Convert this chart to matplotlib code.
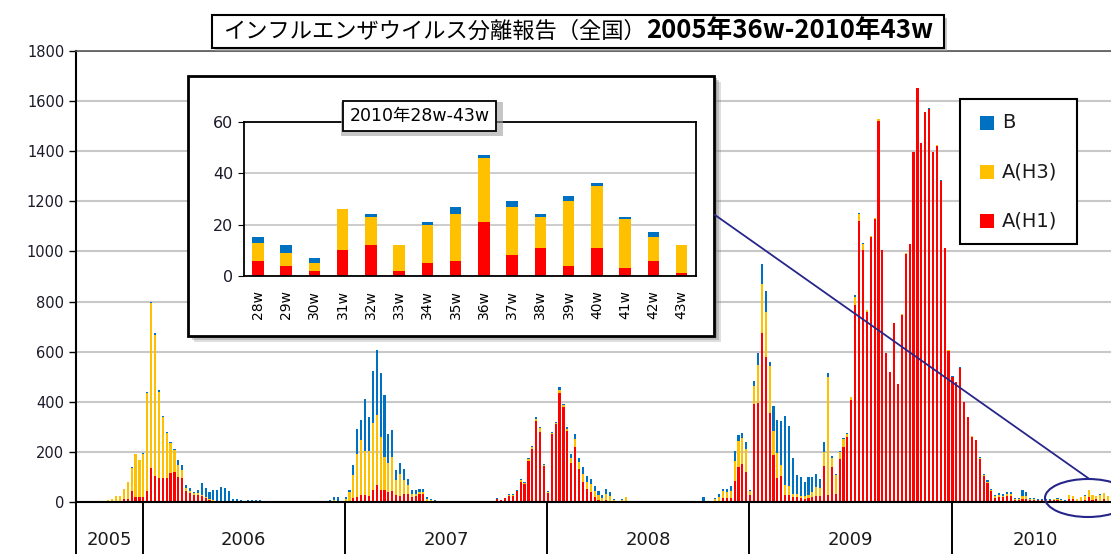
import numpy as np
import matplotlib.pyplot as plt
from matplotlib.patches import Rectangle, Ellipse
from matplotlib.lines import Line2D
from matplotlib.transforms import blended_transform_factory

plt.rcParams['font.family'] = ['DejaVu Sans', 'Noto Sans CJK JP']

# --- data: weekly isolation counts, A(H1) / A(H3) / B ---------------------
YEARS = ["2005", "2006", "2007", "2008", "2009", "2010"]

H1_2005 = [0, 0, 0, 0, 0, 0, 0, 0, 0, 0, 0, 0, 13, 13, 44, 19, 19]
H3_2005 = [3, 0, 0, 0, 0, 0, 0, 0, 7, 12, 24, 24, 40, 66, 92, 173, 147]
B_2005 = [0, 0, 0, 0, 0, 0, 0, 0, 0, 0, 0, 0, 0, 0, 2, 0, 0]

H1_2006 = [19, 42, 135, 105, 95, 95, 95, 115, 120, 100, 95, 42, 34, 28, 27, 22, 14, 6, 4, 2,
           3, 0, 0, 0, 0, 0, 0, 0, 0, 0, 0, 0, 0, 0, 0, 0, 0, 0, 5, 0,
           0, 0, 0, 0, 0, 0, 0, 0, 0, 0, 0, 0]
H3_2006 = [172, 393, 660, 563, 345, 245, 180, 119, 87, 48, 32, 14, 10, 6, 7, 6, 4, 4, 3, 0,
           0, 2, 0, 0, 0, 0, 0, 0, 0, 0, 0, 0, 0, 0, 0, 0, 0, 0, 0, 0,
           0, 0, 0, 0, 0, 0, 0, 0, 0, 6, 5, 5]
B_2006 = [3, 5, 5, 5, 6, 5, 5, 5, 5, 20, 20, 10, 10, 6, 13, 46, 36, 30, 40, 45,
          58, 52, 43, 13, 13, 7, 0, 6, 6, 6, 6, 0, 0, 0, 0, 0, 0, 0, 0, 0,
          0, 0, 0, 0, 5, 5, 5, 0, 8, 13, 14, 0]

H1_2007 = [2, 3, 14, 20, 27, 27, 25, 46, 68, 46, 46, 41, 43, 27, 23, 30, 32, 20, 24, 30,
           30, 5, 4, 3, 0, 5, 0, 4, 0, 0, 0, 0, 4, 0, 0, 0, 0, 0, 5, 12,
           6, 14, 25, 24, 45, 80, 70, 165, 210, 325, 280, 145]
H3_2007 = [8, 36, 94, 172, 219, 178, 180, 268, 279, 213, 135, 113, 138, 61, 88, 58, 36, 12, 8, 10,
           8, 6, 4, 2, 0, 0, 0, 0, 0, 3, 0, 0, 0, 0, 0, 0, 0, 0, 0, 0,
           0, 0, 3, 3, 0, 6, 6, 6, 9, 8, 14, 4]
B_2007 = [9, 7, 39, 101, 81, 207, 136, 209, 261, 255, 247, 119, 105, 39, 43, 43, 22, 14, 14, 13,
          15, 8, 4, 3, 0, 0, 0, 0, 0, 0, 0, 0, 0, 0, 0, 0, 0, 0, 0, 2,
          0, 2, 3, 3, 2, 5, 5, 5, 5, 6, 6, 3]

H1_2008 = [37, 270, 310, 435, 378, 283, 155, 220, 130, 78, 50, 40, 18, 6, 3, 6, 5, 2, 0, 0,
           0, 0, 0, 0, 0, 0, 0, 0, 0, 0, 0, 0, 0, 0, 0, 0, 0, 0, 0, 0,
           0, 0, 0, 0, 5, 16, 14, 14, 85, 140, 150, 120]
H3_2008 = [3, 5, 5, 14, 9, 10, 20, 33, 30, 35, 30, 30, 26, 20, 14, 24, 18, 4, 0, 8,
           18, 0, 0, 0, 0, 0, 0, 0, 0, 0, 0, 0, 0, 0, 3, 0, 0, 0, 0, 0,
           0, 0, 0, 10, 15, 29, 25, 30, 80, 105, 105, 93]
B_2008 = [2, 3, 4, 10, 6, 6, 15, 18, 14, 25, 24, 22, 20, 17, 10, 22, 15, 5, 4, 3,
          2, 4, 4, 0, 4, 4, 4, 4, 4, 0, 0, 0, 0, 0, 0, 0, 0, 0, 0, 0,
          18, 4, 4, 6, 10, 8, 14, 21, 40, 24, 21, 26]

H1_2009 = [28, 393, 397, 673, 580, 356, 189, 96, 103, 29, 29, 18, 20, 15, 12, 15, 20, 25, 25, 145,
           27, 140, 32, 170, 220, 260, 408, 785, 1120, 1005, 760, 1058, 1128, 1520, 1005, 594, 517, 713, 470, 746,
           990, 1028, 1395, 1651, 1431, 1555, 1570, 1395, 1422, 1283, 1012, 604]
H3_2009 = [14, 70, 150, 196, 180, 187, 93, 100, 45, 40, 33, 12, 10, 10, 10, 12, 20, 35, 30, 55,
           473, 37, 75, 30, 33, 12, 10, 35, 30, 25, 5, 5, 5, 7, 2, 2, 3, 3, 2, 3,
           3, 1, 1, 2, 1, 1, 0, 1, 1, 0, 1, 1]
B_2009 = [5, 20, 46, 80, 83, 17, 100, 133, 175, 274, 241, 146, 77, 74, 58, 72, 59, 52, 38, 39,
          13, 6, 6, 3, 3, 4, 2, 5, 2, 2, 0, 0, 0, 0, 0, 0, 0, 0, 0, 0,
          0, 0, 0, 0, 0, 0, 3, 0, 0, 2, 0, 0]

H1_2010 = [500, 477, 535, 398, 339, 261, 246, 170, 104, 76, 44, 15, 20, 18, 25, 22, 8, 8, 10, 12,
           8, 8, 6, 6, 5, 6, 6,
           6, 4, 2, 10, 12, 2, 5, 6, 21, 8, 11, 4, 11, 3, 6, 1]
H3_2010 = [0, 0, 0, 0, 0, 1, 1, 5, 4, 5, 4, 8, 8, 7, 8, 10, 3, 3, 12, 10,
           4, 4, 3, 2, 3, 2, 4,
           7, 5, 3, 16, 11, 10, 15, 18, 25, 19, 12, 25, 24, 19, 9, 11]
B_2010 = [3, 3, 5, 2, 1, 2, 2, 5, 5, 5, 5, 5, 7, 6, 8, 9, 4, 4, 25, 19,
          5, 5, 4, 3, 3, 3, 3,
          2, 3, 2, 0, 1, 0, 1, 3, 1, 2, 1, 2, 1, 1, 2, 0]

INSET_WEEKS = [f"{w}w" for w in range(28, 44)]

RED = "#FF0000"
YEL = "#FFC000"
BLU = "#0070C0"
NAVY = "#26268a"

W, H = 1111, 554


def fx(px):
    return px / W


def fy(py):
    return 1 - py / H


h1_years = [H1_2005, H1_2006, H1_2007, H1_2008, H1_2009, H1_2010]
h3_years = [H3_2005, H3_2006, H3_2007, H3_2008, H3_2009, H3_2010]
b_years = [B_2005, B_2006, B_2007, B_2008, B_2009, B_2010]

h1 = np.concatenate(h1_years)
h3 = np.concatenate(h3_years)
b = np.concatenate(b_years)
n = len(h1)
x = np.arange(n)
starts = np.cumsum([0] + [len(v) for v in h1_years])

fig = plt.figure(figsize=(W / 100, H / 100), dpi=100)

# main axes (runs past the right edge like the original screenshot)
pxw = 3.89
ax = fig.add_axes([fx(76), fy(502), (n * pxw) / W, (502 - 51) / H])
x0 = -1.2 / pxw
ax.set_xlim(x0, x0 + n)
ax.set_ylim(0, 1800)
ax.bar(x, h1, width=0.55, color=RED, linewidth=0)
ax.bar(x, h3, width=0.55, bottom=h1, color=YEL, linewidth=0)
ax.bar(x, b, width=0.55, bottom=h1 + h3, color=BLU, linewidth=0)

ax.set_yticks(range(0, 1801, 200))
ax.yaxis.grid(True, color="#c8c8c8", lw=1.5)
ax.set_axisbelow(True)
ax.set_xticks([])
ax.tick_params(axis="y", length=5, width=1, labelsize=10.5, labelcolor="#1a1a2a")
for s in ("left", "bottom"):
    ax.spines[s].set_linewidth(1.5)
    ax.spines[s].set_color("black")
ax.spines["top"].set_color("#555555")
ax.spines["top"].set_linewidth(1.2)
ax.spines["right"].set_visible(False)

# year band below the axis
tr = blended_transform_factory(ax.transData, ax.transAxes)
band = -52 / 451
seps = [x0] + [s - 0.2 for s in starts[1:-1]] + [x0 + n]
for sx in seps[:-1]:
    ax.plot([sx, sx], [0, band], transform=tr, color="black", lw=1.4, clip_on=False)
for k, yr in enumerate(YEARS):
    ax.text((seps[k] + seps[k + 1]) / 2, -38 / 451, yr, transform=tr,
            ha="center", va="center", fontsize=13, color="#1a1a1a")

# title box
fig.add_artist(Rectangle((fx(215), fy(51)), 732 / W, 33 / H, transform=fig.transFigure,
                         facecolor="#a0a0a0", edgecolor="none", alpha=0.6, zorder=1))
fig.add_artist(Rectangle((fx(212), fy(48)), 732 / W, 33 / H, transform=fig.transFigure,
                         facecolor="white", edgecolor="black", lw=1.5, zorder=1.1))
t1 = fig.text(0, fy(31), "インフルエンザウイルス分離報告（全国）", family="Noto Sans CJK JP",
              fontsize=16, va="center", ha="left", zorder=1.2)
t2 = fig.text(0, fy(31), "2005年36w-2010年43w", family="Noto Sans CJK JP", fontweight="bold",
              fontsize=18.5, va="center", ha="left", zorder=1.2)
r = fig.canvas.get_renderer()
w1 = t1.get_window_extent(r).width
w2 = t2.get_window_extent(r).width
start = (212 + 944) / 2 - (w1 + w2) / 2
t1.set_x(fx(start))
t2.set_x(fx(start + w1))

# inset frame with shadow
for off, a in ((6, 0.25), (4, 0.35), (2, 0.45)):
    fig.add_artist(Rectangle((fx(187.5 + off), fy(336 + off)), 527 / W, 260 / H,
                             transform=fig.transFigure, facecolor="#808080",
                             edgecolor="none", alpha=a, zorder=1))
fig.add_artist(Rectangle((fx(187.5), fy(336)), 527 / W, 260 / H, transform=fig.transFigure,
                         facecolor="white", edgecolor="black", lw=2, zorder=1.1))

ins = fig.add_axes([fx(243.7), fy(276), (695.8 - 243.7) / W, (276 - 121.7) / H], zorder=3)
ih1 = np.array(H1_2010[27:43])
ih3 = np.array(H3_2010[27:43])
ib = np.array(B_2010[27:43])
xi = np.arange(len(INSET_WEEKS)) + 0.5
ins.bar(xi, ih1, width=0.41, color=RED, linewidth=0)
ins.bar(xi, ih3, width=0.41, bottom=ih1, color=YEL, linewidth=0)
ins.bar(xi, ib, width=0.41, bottom=ih1 + ih3, color=BLU, linewidth=0)
ins.set_xlim(0, 16)
ins.set_ylim(0, 60)
ins.set_yticks([0, 20, 40, 60])
ins.yaxis.grid(True, color="#c8c8c8", lw=1.3)
ins.set_axisbelow(True)
ins.set_xticks(xi)
ins.set_xticklabels(INSET_WEEKS, rotation=90, fontsize=10)
ins.tick_params(axis="x", length=0, pad=10)
ins.tick_params(axis="y", length=4, labelsize=11.5, labelcolor="#1a1a2a")
for s in ins.spines.values():
    s.set_color("black")
    s.set_linewidth(1.3)

# inset title
fig.add_artist(Rectangle((fx(340.5), fy(136)), 163 / W, 34 / H, transform=fig.transFigure,
                         facecolor="#a0a0a0", edgecolor="none", alpha=0.6, zorder=4))
fig.text(fx(419.4), fy(116), "2010年28w-43w", fontsize=12.5, ha="center", va="center", zorder=5,
         bbox=dict(boxstyle="square,pad=0.35", facecolor="white", edgecolor="black", lw=1.3))

# legend
fig.add_artist(Rectangle((fx(960), fy(244)), 117 / W, 145 / H, transform=fig.transFigure,
                         facecolor="white", edgecolor="black", lw=1.5, zorder=4))
for cy, col, lab in ((123, BLU, "B"), (172, YEL, "A(H3)"), (221, RED, "A(H1)")):
    fig.add_artist(Rectangle((fx(980), fy(cy + 7)), 14 / W, 14 / H, transform=fig.transFigure,
                             facecolor=col, edgecolor="none", zorder=5))
    fig.text(fx(1002), fy(cy), lab, fontsize=14, ha="left", va="center", zorder=5,
             color="#1a1a1a")

# zoom pointer to the last weeks
fig.add_artist(Line2D([fx(715), fx(1088)], [fy(215), fy(478)], color=NAVY, lw=1.3, zorder=2))
fig.add_artist(Ellipse((fx(1088), fy(498)), 86 / W, 38 / H, transform=fig.transFigure,
                       facecolor="none", edgecolor=NAVY, lw=1.5, zorder=2))

fig.savefig("out.png", dpi=100)
